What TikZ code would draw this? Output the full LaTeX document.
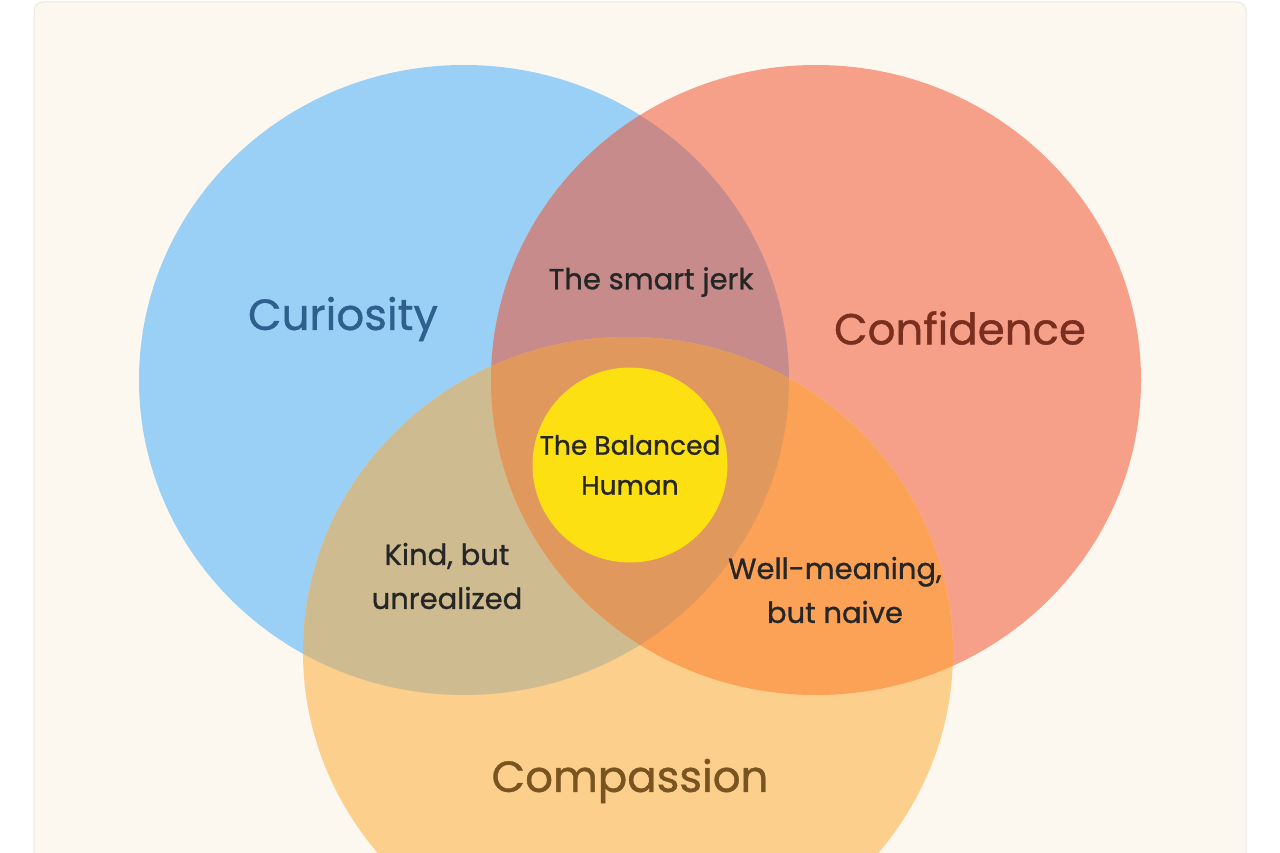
\documentclass[tikz,border=0pt]{standalone}
\usepackage{fontspec}
\setmainfont{Poppins}
\newfontfamily\pmed{Poppins}[FakeBold=0.9]
\definecolor{panel}{HTML}{FDF8EF}
\definecolor{panelline}{HTML}{E9E7E4}
\definecolor{cB}{HTML}{9AD0F5}
\definecolor{cR}{HTML}{F6A08A}
\definecolor{cO}{HTML}{FCCF8C}
\definecolor{cBR}{HTML}{C68B8A}
\definecolor{cBO}{HTML}{CFBB90}
\definecolor{cRO}{HTML}{FBA256}
\definecolor{cBRO}{HTML}{E1985D}
\definecolor{cY}{HTML}{FDE012}
\definecolor{tB}{HTML}{2F5F8C}
\definecolor{tR}{HTML}{7A2E1D}
\definecolor{tO}{HTML}{7A5420}
\definecolor{tD}{HTML}{262626}
\tikzset{
  title/.style={font=\pmed\fontsize{43.5}{48}\selectfont, inner sep=0pt},
  region/.style={font=\pmed\fontsize{29}{44}\selectfont, text=tD, align=center, inner sep=0pt},
}
\begin{document}
\begin{tikzpicture}[x=1pt,y=-1pt]
\useasboundingbox (0,0) rectangle (1280,853);
\clip (0,0) rectangle (1280,853);
\fill[white] (0,0) rectangle (1280,853);
\filldraw[fill=panel, draw=panelline, line width=1pt, rounded corners=9pt] (34,2) rectangle (1246,900);
\def\blueE{(464,380) ellipse [x radius=325pt, y radius=315pt]}
\def\redE{(816,380) ellipse [x radius=325pt, y radius=315pt]}
\def\orE{(628,652) ellipse [x radius=325pt, y radius=315pt]}
\fill[cB] \blueE;
\fill[cR] \redE;
\fill[cO] \orE;
\begin{scope}\clip \blueE; \fill[cBR] \redE; \end{scope}
\begin{scope}\clip \blueE; \fill[cBO] \orE; \end{scope}
\begin{scope}\clip \redE; \fill[cRO] \orE; \end{scope}
\begin{scope}\clip \blueE; \clip \redE; \fill[cBRO] \orE; \end{scope}
\fill[cY] (630,465) circle[radius=97.5pt];
% titles
\node[title, text=tB] (cur) at (343,319) {Curiosity};
\node[title, text=tR] (con) at (960,328) {Confidence};
\node[title, text=tO] (com) at (630,781) {Compassion};
% region labels
\node[region] (jerk) at (651,282) {The smart jerk};
\node[region, font=\pmed\fontsize{26.5}{40}\selectfont] (bal) at (630,465) {The Balanced\\Human};
\node[region] (kind) at (447,576) {Kind, but\\unrealized};
\node[region] (well) at (835,590) {Well-meaning,\\but naive};
\end{tikzpicture}
\end{document}
